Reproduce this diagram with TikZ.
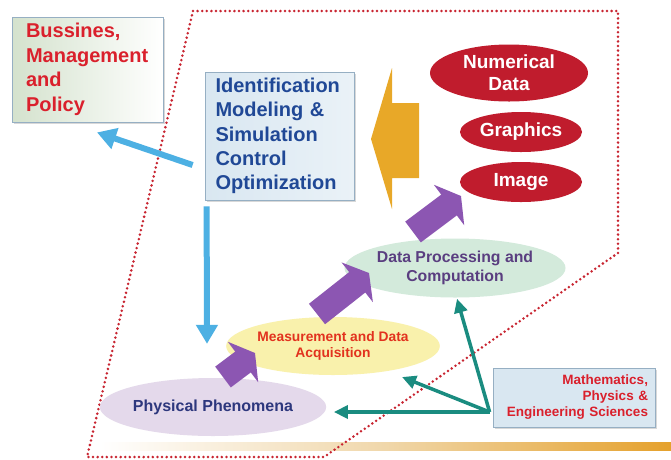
\documentclass[tikz,border=0pt]{standalone}
\usepackage{fontspec}
\setmainfont{Liberation Sans}
\usetikzlibrary{arrows.meta,shapes.geometric,calc,shadows}
\definecolor{dotred}{RGB}{200,36,48}
\definecolor{ellred}{RGB}{192,28,45}
\definecolor{bluearr}{RGB}{77,176,227}
\definecolor{tealarr}{RGB}{26,140,128}
\definecolor{purparr}{RGB}{140,86,178}
\definecolor{orangearr}{RGB}{232,168,40}
\definecolor{txtblue}{RGB}{32,72,150}
\definecolor{txtred}{RGB}{218,32,44}
\definecolor{txtorange}{RGB}{226,50,30}
\definecolor{txtnavy}{RGB}{45,55,125}
\definecolor{txtpurple}{RGB}{90,62,128}
\definecolor{ppfill}{RGB}{228,217,235}
\definecolor{measfill}{RGB}{249,241,172}
\definecolor{dpfill}{RGB}{211,234,219}
\definecolor{boxblue}{RGB}{217,231,241}
\definecolor{boxgreen}{RGB}{212,226,205}
\definecolor{boxedge}{RGB}{150,175,195}
\definecolor{barorange}{RGB}{229,161,44}
\definecolor{barpeach}{RGB}{240,215,170}
\begin{document}
\begin{tikzpicture}[x=1pt,y=-1pt,
  box/.style={rectangle, draw=boxedge, line width=0.8pt,
    drop shadow={shadow xshift=1.5pt, shadow yshift=-1.5pt, opacity=0.3}},
  redell/.style={ellipse, fill=ellred, text=white, inner sep=0pt, align=center,
    font=\fontsize{19}{22}\selectfont\bfseries},
  softell/.style={ellipse, inner sep=0pt, align=center},
  bluearrow/.style={draw=bluearr, line width=6pt, -{Triangle[length=19pt,width=21pt]}},
  tealarrow/.style={draw=tealarr, line width=3.5pt, -{Triangle[length=14pt,width=13pt]}},
  purparrow/.style={draw=purparr, line width=26pt, -{Triangle[length=15pt,width=50pt]}},
  dotline/.style={draw=dotred, line width=2.8pt, dash pattern=on 0pt off 4.6pt, line cap=round}
]
\fill[white] (0,0) rectangle (671,459);
\useasboundingbox (0,0) rectangle (671,459);

% bottom bar
\shade[left color=white, right color=barorange, middle color=barpeach] (100,442) rectangle (671,450);

% dotted frame
\path[dotline] (193,11) -- (618,11) -- (618,253) -- (324,457) -- (87,457) -- cycle;

% boxes
\node[box, left color=boxgreen, right color=white, minimum width=151pt, minimum height=105pt,
  text width=123pt, inner xsep=14pt, align=left, text=txtred,
  font=\fontsize{20}{24.5}\selectfont\bfseries] (biz) at (87.5,69.5)
  {Bussines,\\Management\\and\\Policy};

\node[box, left color=boxblue, right color=boxblue!55!white, minimum width=149pt, minimum height=128pt,
  text width=128pt, inner xsep=10.5pt, align=left, text=txtblue,
  font=\fontsize{20}{24.3}\selectfont\bfseries] (id) at (279.5,136)
  {Identification\\Modeling \&\\Simulation\\Control\\Optimization};

\node[box, fill=boxblue, minimum width=162pt, minimum height=59pt,
  text width=148pt, inner xsep=7pt, align=right, text=txtred,
  font=\fontsize{13.5}{16}\selectfont\bfseries] (math) at (574,397.5)
  {Mathematics,\\Physics \&\\Engineering Sciences};

% red ellipses
\node[redell, minimum width=158pt, minimum height=57pt] (num) at (509,73) {Numerical\\Data};
\node[redell, minimum width=122pt, minimum height=40pt] (gra) at (521,132) {Graphics};
\node[redell, minimum width=122pt, minimum height=40pt] (img) at (521,182) {Image};

% soft ellipses
\node[softell, fill=ppfill, text=txtnavy, minimum width=193pt, minimum height=58pt,
  font=\fontsize{16}{19}\selectfont\bfseries] (pp) at (213,407) {Physical Phenomena};
\node[softell, fill=measfill, text=txtorange, minimum width=180pt, minimum height=58pt,
  font=\fontsize{13.8}{16.5}\selectfont\bfseries] (meas) at (333,346) {Measurement and Data\\Acquisition};
\node[softell, fill=dpfill, text=txtpurple, minimum width=204pt, minimum height=59pt,
  font=\fontsize{15.8}{19}\selectfont\bfseries] (dp) at (455,268) {Data Processing and\\Computation};

% orange block arrow
\fill[orangearr] (419,103) -- (392,103) -- (392,68) -- (371,139) -- (392,209) -- (392,178) -- (419,178) -- cycle;

% blue arrows
\draw[bluearrow] ($(id.west)+(-12,29)$) -- ($(biz.south)+(9.5,10)$);
\draw[bluearrow] ($(id.south west)+(2,6)$) -- ($(pp.north)+(-6,-34)$);

% purple arrows
\draw[purparrow] ($(pp.center)+(10,-30)$) -- ($(meas.center)+(-78,7)$);
\draw[purparrow] ($(meas.center)+(-16,-32)$) -- ($(dp.center)+(-86,5)$);
\draw[purparrow] ($(dp.center)+(-42,-36)$) -- ($(img.center)+(-60,14)$);

% teal arrows
\coordinate (hub) at ($(math.west)+(-3,14.5)$);
\draw[tealarrow] (hub) -- ($(pp.east)+(7.5,5)$);
\draw[tealarrow] (hub) -- ($(meas.center)+(69,31)$);
\draw[tealarrow] (hub) -- ($(dp.south)+(2,1)$);
\end{tikzpicture}
\end{document}
